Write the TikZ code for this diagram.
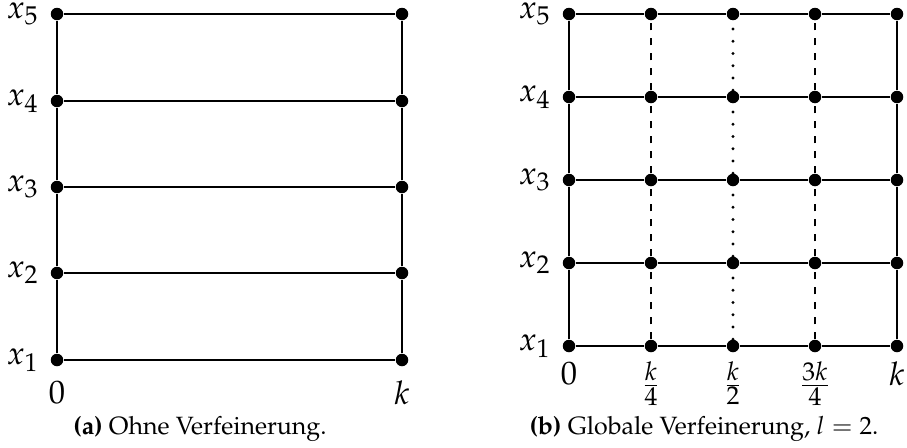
\documentclass[tikz,border=0pt]{standalone}
\usepackage[T1]{fontenc}
\usepackage{mathpazo}
\usepackage{amsmath}
\usetikzlibrary{positioning}
\DeclareMathSizes{13}{13}{10.3}{7.5}

\tikzset{
  gridpt/.style={circle, fill=black, inner sep=0pt, minimum size=5pt},
  gridline/.style={line width=0.5pt},
  rowlab/.style={inner sep=0pt, font=\fontsize{13}{15}\selectfont},
  ticklab/.style={inner sep=0pt, font=\fontsize{13}{15}\selectfont},
  subcap/.style={anchor=base, inner sep=0pt}
}

\begin{document}
\begin{tikzpicture}[x=0.4pt,y=-0.4pt]
\useasboundingbox (0,0) rectangle (907,447);

% (a) ohne Verfeinerung
\foreach \i/\y in {1/360,2/273,3/187,4/101,5/14} {
  \node[gridpt] (a0-\i) at (57,\y) {};
  \node[gridpt] (a1-\i) at (402,\y) {};
  \node[rowlab, left=4.4pt of a0-\i] (al-\i) {$x_{\i}$};
}
\foreach \i in {1,...,5} {
  \draw[gridline] (a0-\i) -- (a1-\i);
}
\foreach \i [evaluate=\i as \j using int(\i+1)] in {1,...,4} {
  \draw[gridline] (a0-\i) -- (a0-\j);
  \draw[gridline] (a1-\i) -- (a1-\j);
}
\node[ticklab, below=5.6pt of a0-1] (at-0) {$0$};
\node[ticklab, below=5.6pt of a1-1] (at-1) {$k$};
\node[subcap] (capa) at (200,434) {\textbf{(a)} Ohne Verfeinerung.};

% (b) globale Verfeinerung
\foreach \i/\y in {1/346,2/263,3/180,4/97,5/14} {
  \foreach \c/\x in {0/569,1/651,2/733,3/815,4/897} {
    \node[gridpt] (b\c-\i) at (\x,\y) {};
  }
  \node[rowlab, left=4.4pt of b0-\i] (bl-\i) {$x_{\i}$};
  \draw[gridline] (b0-\i) -- (b1-\i) -- (b2-\i) -- (b3-\i) -- (b4-\i);
}
\foreach \i [evaluate=\i as \j using int(\i+1)] in {1,...,4} {
  \draw[gridline] (b0-\i) -- (b0-\j);
  \draw[gridline] (b4-\i) -- (b4-\j);
  \draw[gridline, dash pattern=on 2.8pt off 3.2pt] (b1-\i) -- (b1-\j);
  \draw[gridline, dash pattern=on 2.8pt off 3.2pt] (b3-\i) -- (b3-\j);
  \draw[gridline, line width=1.3pt, line cap=round, dash pattern=on 0pt off 4.9pt] (b2-\i) -- (b2-\j);
}
\foreach \c/\lab in {0/0, 1/\frac{k}{4}, 2/\frac{k}{2}, 3/\frac{3k}{4}, 4/k} {
  \node[ticklab, below=3.5pt of b\c-1] (bt-\c) {$\lab$};
}
\node[subcap] (capb) at (704,434) {\textbf{(b)} Globale Verfeinerung, $l=2$.};
\end{tikzpicture}
\end{document}
